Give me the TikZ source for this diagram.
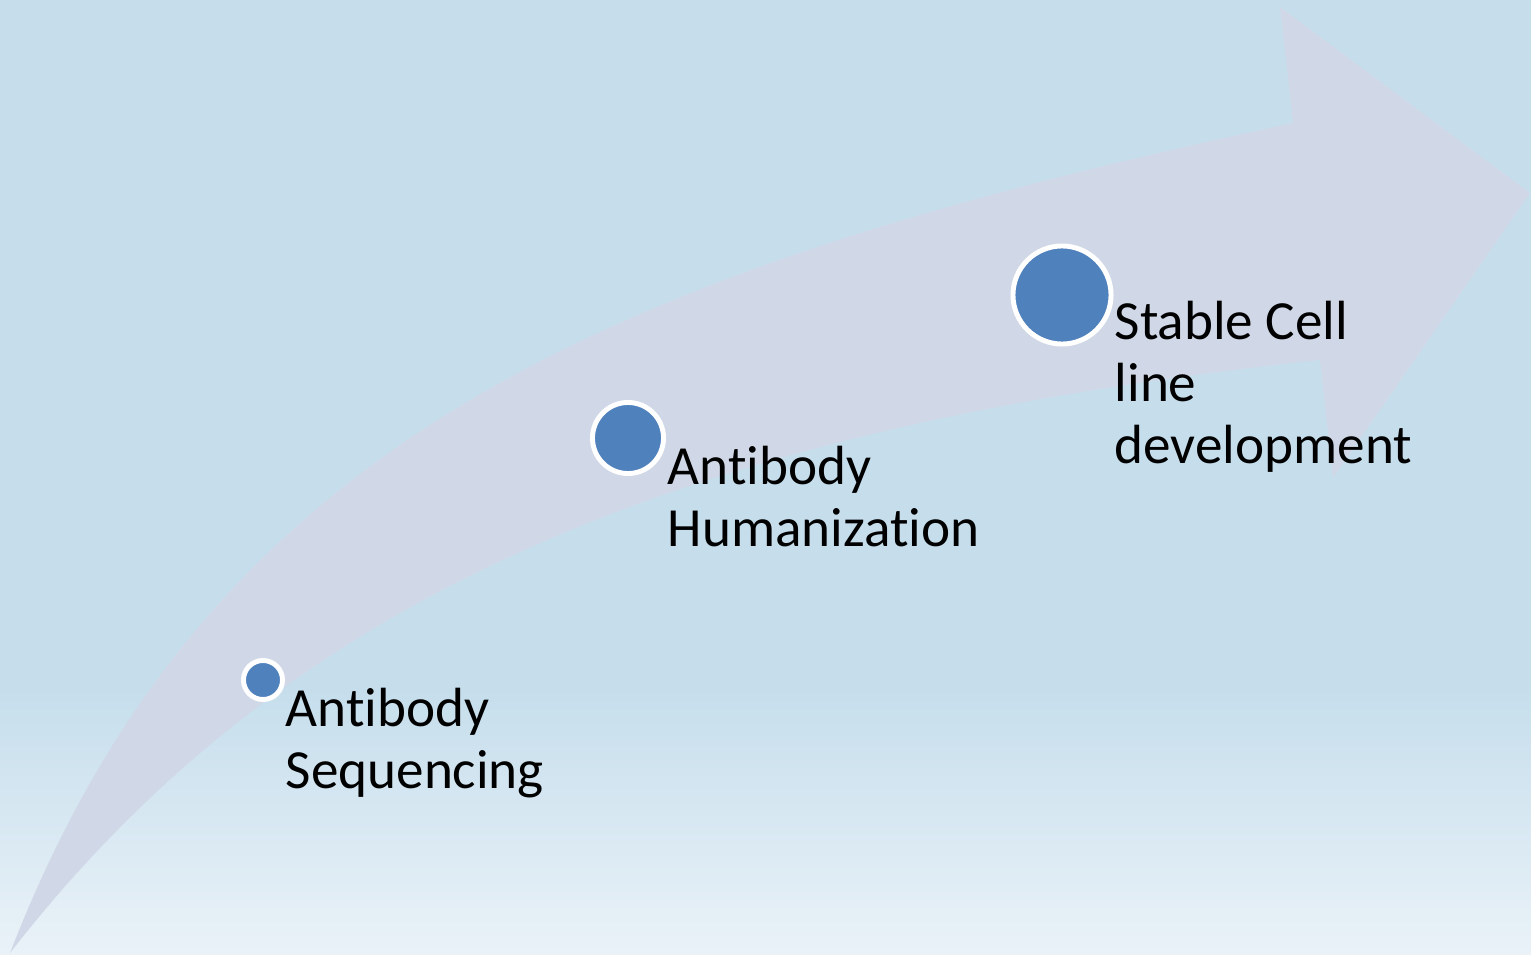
\documentclass[tikz,border=0pt]{standalone}
\usepackage{fontspec}
\setmainfont[Ligatures=CommonOff]{Carlito}
\usetikzlibrary{positioning}

\definecolor{bgblue}{HTML}{C6DEEC}
\definecolor{bglight}{HTML}{EAF2F8}
\definecolor{arrowgray}{HTML}{D0D8E7}
\definecolor{dotblue}{HTML}{4F81BD}

\begin{document}
\begin{tikzpicture}[
    x=0.01cm, y=-0.01cm,
    dot/.style={circle, draw=white, line width=1.4pt, fill=dotblue, inner sep=0pt},
    steplabel/.style={anchor=base west, align=left, inner sep=0pt, font=\fontsize{15.7}{17.6}\selectfont}
]

% Background
\fill[bgblue] (0,0) rectangle (1531,955);
\shade[top color=bgblue, bottom color=bglight] (0,690) rectangle (1531,955);
\useasboundingbox (0,0) rectangle (1531,955);

% Curved arrow
\fill[arrowgray] (10,953) .. controls (208,441) and (608,269) .. (1293,123)
    -- (1280,7) -- (1530,193) -- (1333,478) -- (1320,360)
    .. controls (674,429) and (286,598) .. (10,953) -- cycle;

% Steps
\node[dot, minimum size=0.39cm] (seq) at (263,680) {};
\node[dot, minimum size=0.71cm] (hum) at (628,438) {};
\node[dot, minimum size=0.98cm] (cell) at (1062,295) {};

% Labels (base = last line)
\node[steplabel] (seqtext) at (285,788) {Antibody\\Sequencing};
\node[steplabel] (humtext) at (667,546) {Antibody\\Humanization};
\node[steplabel] (celltext) at (1114,463) {Stable Cell\\line\\development};

\end{tikzpicture}
\end{document}
